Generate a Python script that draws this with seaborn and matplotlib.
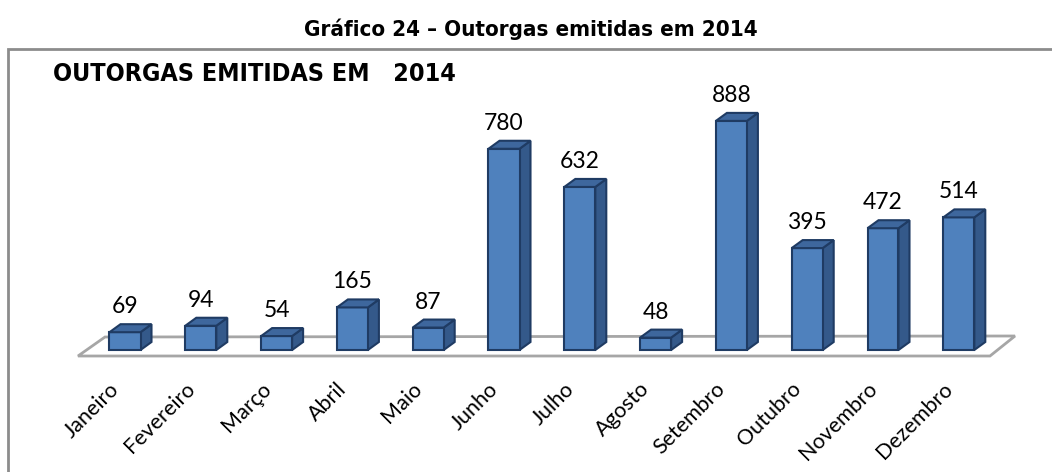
import matplotlib
matplotlib.use("Agg")
import matplotlib.pyplot as plt
from matplotlib.patches import Polygon, Rectangle
import seaborn as sns
import pandas as pd

# Monthly water-use permits issued in 2014
months = ["Janeiro", "Fevereiro", "Março", "Abril", "Maio", "Junho",
          "Julho", "Agosto", "Setembro", "Outubro", "Novembro", "Dezembro"]
outorgas = [69, 94, 54, 165, 87, 780, 632, 48, 888, 395, 472, 514]

fig_title = "Gráfico 24 – Outorgas emitidas em 2014"
chart_title = "OUTORGAS EMITIDAS EM   2014"

sns.set_theme(style="white")
plt.rcParams["text.color"] = "black"
narrow = ["DejaVu Sans"]
label_font = ["Lato", "DejaVu Sans"]

W, H = 1052, 472
fig = plt.figure(figsize=(W / 100, H / 100), dpi=100)

# axes covering the whole figure; data units chosen so bars land in the frame
ax = fig.add_axes([0, 0, 1, 1])
x0_px, step_px = 125.0, 75.8      # first bar centre and spacing (pixels)
base_px, px_per_unit = 350.0, 0.258
xlim = ((0 - x0_px) / step_px, (W - x0_px) / step_px)
ylim = (-(H - base_px) / px_per_unit, base_px / px_per_unit)

ux = 1.0 / step_px          # one pixel in x data units
uy = 1.0 / px_per_unit      # one pixel in y data units

# chart frame
ax.add_patch(Rectangle((-(x0_px - 8) * ux, -(H + 20 - base_px) * uy),
                       (W + 20) * ux, (H + 20 - 49) * uy,
                       fill=False, edgecolor="#8c8c8c", lw=2, zorder=0))

# floor of the 3-D plot
floor = [((78 - x0_px) * ux, -6 * uy), ((990 - x0_px) * ux, -6 * uy),
         ((1015 - x0_px) * ux, 14 * uy), ((105 - x0_px) * ux, 13 * uy)]
ax.add_patch(Polygon(floor, closed=True, facecolor="white",
                     edgecolor="#a6a6a6", lw=2, zorder=1))

df = pd.DataFrame({"mes": months, "n": outorgas})
bar_w = 31 / step_px
sns.barplot(data=df, x="mes", y="n", ax=ax, width=bar_w, color="#4F81BD",
            saturation=1, edgecolor="#1F3B63", linewidth=1.5, zorder=3)
ax.set_xlim(*xlim)
ax.set_ylim(*ylim)
ax.axis("off")

bars = [p for p in ax.patches if p.get_zorder() == 3]
dx, dy = 11 * ux, 8 * uy
for bar, val, name in zip(bars, outorgas, months):
    xl = bar.get_x()
    xr = xl + bar.get_width()
    top = bar.get_height()
    side = [(xr, 0), (xr + dx, dy), (xr + dx, top + dy), (xr, top)]
    lid = [(xl, top), (xr, top), (xr + dx, top + dy), (xl + dx, top + dy)]
    ax.add_patch(Polygon(side, closed=True, facecolor="#34598A",
                         edgecolor="#1F3B63", lw=1.5, zorder=2))
    ax.add_patch(Polygon(lid, closed=True, facecolor="#3E679D",
                         edgecolor="#1F3B63", lw=1.5, zorder=4))
    xc = xl + bar.get_width() / 2
    ax.text(xc, top + dy + 11 * uy, f"{val}", ha="center", va="baseline",
            fontsize=16.5, family=label_font, color="black", zorder=5)
    ax.text(xc - 9 * ux, -36 * uy, name, rotation=45, rotation_mode="anchor",
            ha="right", va="center", fontsize=15.5, family=label_font,
            color="black", zorder=5)

fig.text(531 / W, 1 - 29 / H, fig_title, ha="center", va="center",
         fontsize=16, fontweight="bold", fontstretch="condensed",
         family=narrow, color="black")
fig.text(53 / W, 1 - 74 / H, chart_title, ha="left", va="center",
         fontsize=18, fontweight="bold", fontstretch="condensed",
         family=narrow, color="black")

fig.savefig("out.png", dpi=100)
